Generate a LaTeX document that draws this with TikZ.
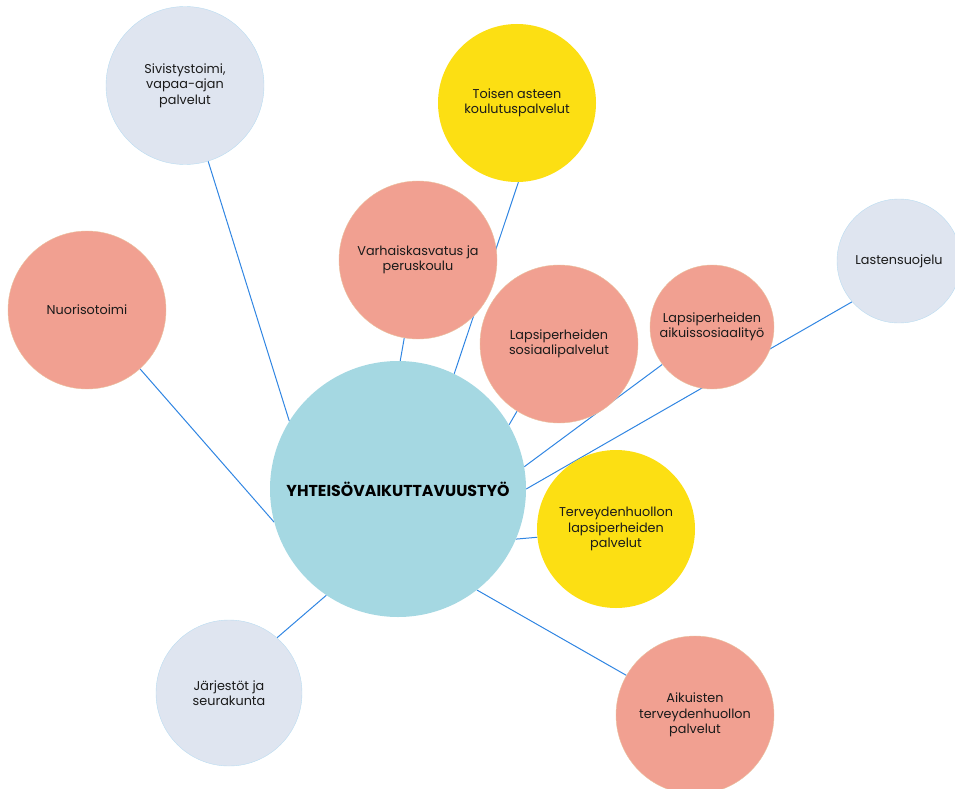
\documentclass[tikz,border=0pt]{standalone}
\usepackage{fontspec}
\setmainfont{Poppins}
\usetikzlibrary{backgrounds}
\definecolor{cblue}{HTML}{A5D8E2}
\definecolor{csalmon}{HTML}{F1A091}
\definecolor{csalmonedge}{HTML}{E9C3A0}
\definecolor{cyellow}{HTML}{FCDF13}
\definecolor{cgray}{HTML}{DFE5F0}
\definecolor{cgrayedge}{HTML}{B9DCF0}
\definecolor{cline}{HTML}{3186E2}
\definecolor{ctext}{HTML}{1A1A1A}
\begin{document}
\begin{tikzpicture}[x=1pt,y=-1pt,
  bub/.style={circle, inner sep=0pt, align=center, font=\fontsize{12.8}{15.5}\selectfont, text=ctext},
  salmonb/.style={bub, fill=csalmon, draw=csalmonedge, line width=0.4pt},
  yellowb/.style={bub, fill=cyellow},
  grayb/.style={bub, fill=cgray, draw=cgrayedge, line width=0.4pt},
  big/.style={minimum size=158pt},
  mid/.style={minimum size=124pt},
  link/.style={draw=cline, line width=1pt}]
\useasboundingbox (0,0) rectangle (955,789);

\node[bub, fill=cblue, minimum size=256pt, font=\bfseries\fontsize{15.8}{18}\selectfont, text=black] (core) at (398,489) {YHTEISÖVAIKUTTAVUUSTYÖ};
\node[grayb, big] (sivis) at (185,85.5) {Sivistystoimi,\\vapaa-ajan\\palvelut};
\node[yellowb, big] (toisen) at (517,103) {Toisen asteen\\koulutuspalvelut};
\node[salmonb, big] (varh) at (418,260) {\raisebox{-6pt}{\begin{tabular}{@{}c@{}}Varhaiskasvatus ja\\peruskoulu\end{tabular}}};
\node[salmonb, big] (nuor) at (87,310) {Nuorisotoimi};
\node[grayb, mid] (last) at (899,261) {Lastensuojelu};
\node[salmonb, big] (sos) at (559,344) {Lapsiperheiden\\sosiaalipalvelut};
\node[salmonb, mid] (aik) at (712,327) {Lapsiperheiden\\aikuissosiaalityö};
\node[yellowb, big] (terv) at (616,529) {\raisebox{-8pt}{\begin{tabular}{@{}c@{}}Terveydenhuollon\\lapsiperheiden\\palvelut\end{tabular}}};
\node[grayb, minimum size=146pt] (jarj) at (229,693) {Järjestöt ja\\seurakunta};
\node[salmonb, big] (aikt) at (695,715) {Aikuisten\\terveydenhuollon\\palvelut};

\begin{pgfonlayer}{background}
\draw[link] (sivis.-73) -- (core.148.7);
\draw[link] (toisen.-89) -- (core.64.8);
\draw[link] (varh.-100) -- (core.89);
\draw[link] (nuor.-48.5) -- (core.195.5);
\draw[link] (last.221) -- (core.0.5);
\draw[link] (aik.217) -- (core.10);
\draw[link] (sos.238) -- (core.30.5);
\draw[link] (terv.186.5) -- (core.-23.5);
\draw[link] (jarj.49.4) -- (core.236.4);
\draw[link] (core.-52.5) -- (aikt.150.8);
\end{pgfonlayer}
\end{tikzpicture}
\end{document}
